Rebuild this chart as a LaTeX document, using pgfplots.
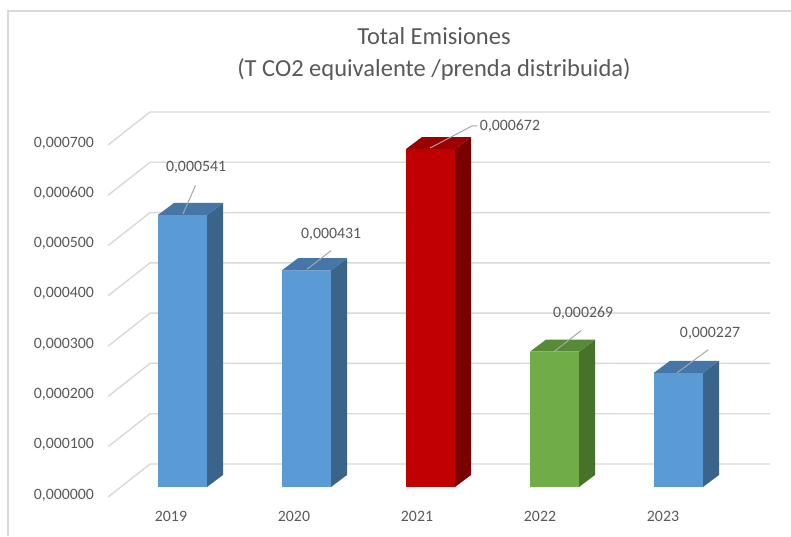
\documentclass[border=0pt]{standalone}
\usepackage{pgfplots}
\pgfplotsset{compat=1.18}
\usepackage{fontspec}
\setmainfont{Carlito}
\definecolor{txt}{HTML}{595959}
\definecolor{gridc}{HTML}{D9D9D9}
\definecolor{lead}{HTML}{A6A6A6}
\definecolor{bF}{HTML}{5B9BD5}
\definecolor{bT}{HTML}{4676A8}
\definecolor{bS}{HTML}{3A6489}
\definecolor{rF}{HTML}{C00000}
\definecolor{rT}{HTML}{9C0000}
\definecolor{rS}{HTML}{7A0000}
\definecolor{gF}{HTML}{70AD47}
\definecolor{gT}{HTML}{578A37}
\definecolor{gS}{HTML}{47722C}
\begin{document}
\begin{tikzpicture}[x=1pt,y=1pt]
\useasboundingbox (0,0) rectangle (791,536);
\fill[white] (0,0) rectangle (791,536);
\draw[gridc, line width=1.5pt] (8,0) -- (8,525) -- (791,525);
\node[anchor=base, text=txt, font=\fontsize{24.5}{30}\selectfont] at (434,491) {Total Emisiones};
\node[anchor=base, text=txt, font=\fontsize{24.5}{30}\selectfont] at (434,459) {(T CO2 equivalente /prenda distribuida)};
\begin{axis}[
  at={(108pt,39pt)}, anchor=south west,
  scale only axis, width=662pt, height=385pt,
  xmin=-0.601, xmax=4.738, ymin=-0.0000199, ymax=0.0007457,
  clip=false,
  axis line style={draw=none},
  major tick length=0pt,
  ytick={0,0.0001,0.0002,0.0003,0.0004,0.0005,0.0006,0.0007},
  scaled y ticks=false,
  yticklabel style={/pgf/number format/.cd, fixed, fixed zerofill, precision=6, use comma, 1000 sep={}, assume math mode=true, /tikz/.cd,
     anchor=east, xshift=-10.5pt, yshift=-8pt, text=txt, font=\fontsize{15.8}{19}\selectfont},
  xtick={-0.093,0.899,1.891,2.883,3.875},
  xticklabels={2019,2020,2021,2022,2023},
  xticklabel style={anchor=center, yshift=-19pt, text=txt, font=\fontsize{15.8}{19}\selectfont},
]
% gridlines (3D back wall)
\addplot[draw=gridc, line width=1.4pt] coordinates {(-0.601,-0.0000199) (-0.262,0.0000457) (4.738,0.0000457)};
\addplot[draw=gridc, line width=1.4pt] coordinates {(-0.601,0.0000801) (-0.262,0.0001457) (4.738,0.0001457)};
\addplot[draw=gridc, line width=1.4pt] coordinates {(-0.601,0.0001801) (-0.262,0.0002457) (4.738,0.0002457)};
\addplot[draw=gridc, line width=1.4pt] coordinates {(-0.601,0.0002801) (-0.262,0.0003457) (4.738,0.0003457)};
\addplot[draw=gridc, line width=1.4pt] coordinates {(-0.601,0.0003801) (-0.262,0.0004457) (4.738,0.0004457)};
\addplot[draw=gridc, line width=1.4pt] coordinates {(-0.601,0.0004801) (-0.262,0.0005457) (4.738,0.0005457)};
\addplot[draw=gridc, line width=1.4pt] coordinates {(-0.601,0.0005801) (-0.262,0.0006457) (4.738,0.0006457)};
\addplot[draw=gridc, line width=1.4pt] coordinates {(-0.601,0.0006801) (-0.262,0.0007457) (4.738,0.0007457)};
% front faces
\addplot[ybar, bar width=49pt, fill=bF, draw=none] coordinates {(0,0.000541) (1,0.000431) (4,0.000227)};
\addplot[ybar, bar width=49pt, fill=rF, draw=none] coordinates {(2,0.000672)};
\addplot[ybar, bar width=49pt, fill=gF, draw=none] coordinates {(3,0.000269)};
% side faces
\addplot[fill=bS, draw=none] coordinates {(0.198,0) (0.327,0.0000239) (0.327,0.0005649) (0.198,0.000541)} -- cycle;
\addplot[fill=bS, draw=none] coordinates {(1.198,0) (1.327,0.0000239) (1.327,0.0004549) (1.198,0.000431)} -- cycle;
\addplot[fill=rS, draw=none] coordinates {(2.198,0) (2.327,0.0000239) (2.327,0.0006959) (2.198,0.000672)} -- cycle;
\addplot[fill=gS, draw=none] coordinates {(3.198,0) (3.327,0.0000239) (3.327,0.0002929) (3.198,0.000269)} -- cycle;
\addplot[fill=bS, draw=none] coordinates {(4.198,0) (4.327,0.0000239) (4.327,0.0002509) (4.198,0.000227)} -- cycle;
% top faces
\addplot[fill=bT, draw=none] coordinates {(-0.198,0.000541) (0.198,0.000541) (0.327,0.0005649) (-0.069,0.0005649)} -- cycle;
\addplot[fill=bT, draw=none] coordinates {(0.802,0.000431) (1.198,0.000431) (1.327,0.0004549) (0.931,0.0004549)} -- cycle;
\addplot[fill=rT, draw=none] coordinates {(1.802,0.000672) (2.198,0.000672) (2.327,0.0006959) (1.931,0.0006959)} -- cycle;
\addplot[fill=gT, draw=none] coordinates {(2.802,0.000269) (3.198,0.000269) (3.327,0.0002929) (2.931,0.0002929)} -- cycle;
\addplot[fill=bT, draw=none] coordinates {(3.802,0.000227) (4.198,0.000227) (4.327,0.0002509) (3.931,0.0002509)} -- cycle;
% leader lines
\addplot[draw=lead, line width=1pt] coordinates {(0.105,0.000600) (0.004,0.000543)};
\addplot[draw=lead, line width=1pt] coordinates {(1.198,0.000470) (1.004,0.000433)};
\addplot[draw=lead, line width=1pt] coordinates {(2.375,0.000718) (2.335,0.000718) (1.996,0.000674)};
\addplot[draw=lead, line width=1pt] coordinates {(3.215,0.000311) (2.988,0.000268)};
\addplot[draw=lead, line width=1pt] coordinates {(4.240,0.000273) (3.988,0.000227)};
% data labels
\node[text=txt, font=\fontsize{15.8}{19}\selectfont] at (axis cs:0.109,0.000636) {0,000541};
\node[text=txt, font=\fontsize{15.8}{19}\selectfont] at (axis cs:1.198,0.000503) {0,000431};
\node[text=txt, font=\fontsize{15.8}{19}\selectfont] at (axis cs:2.641,0.000718) {0,000672};
\node[text=txt, font=\fontsize{15.8}{19}\selectfont] at (axis cs:3.230,0.000346) {0,000269};
\node[text=txt, font=\fontsize{15.8}{19}\selectfont] at (axis cs:4.254,0.000306) {0,000227};
\end{axis}
\end{tikzpicture}
\end{document}
